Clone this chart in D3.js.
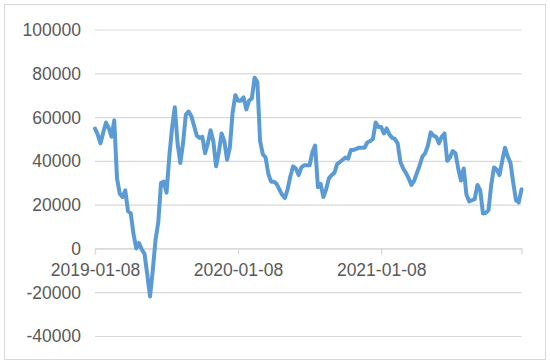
<!DOCTYPE html>
<html>
<head>
    <meta charset="utf-8">
    <script src="https://cdn.jsdelivr.net/npm/d3@7/dist/d3.min.js"></script>
    <style>
        body { margin: 0; background: #fff; }
        svg text { font-family: "Liberation Sans", Arial, sans-serif; fill: #595959; }
    </style>
</head>
<body>
    <div id="chart"></div>
</body>
<script>
    // weekly series
    const values = [
        54800, 52000, 48000, 53000, 57500, 55000, 51000, 58500, 32000, 25000,
        23500, 26500, 17000, 16000, 6500, 0, 2500, -500, -2500, -12000,
        -22000, -10000, 4000, 12000, 30000, 30500, 25500, 42000, 55000, 64500,
        48000, 39000, 48000, 61000, 62500, 60500, 56000, 51500, 50500, 51000,
        43500, 48000, 54000, 49000, 37500, 44000, 52500, 49000, 40500, 46000,
        62000, 70000, 67500, 67500, 69000, 63500, 67500, 68500, 78000, 76000,
        49000, 43000, 41500, 34000, 30500, 30500, 29500, 27000, 24500, 23000,
        27000, 33000, 37500, 36500, 33500, 37000, 38000, 38000, 38000, 44000,
        47000, 28000, 29500, 23500, 27000, 32000, 33500, 34500, 38500, 39500,
        40500, 41500, 41000, 45000, 45000, 45500, 46000, 46000, 46000, 48500,
        49000, 50000, 57500, 55500, 55500, 52500, 54800, 52000, 50500, 50000,
        48000, 39500, 36500, 34500, 32000, 29000, 31000, 34500, 38000, 42000,
        43500, 47000, 53000, 51500, 51000, 48000, 51000, 52500, 40000, 41500,
        44500, 43500, 36500, 31000, 36500, 24500, 21500, 22000, 22500, 29000,
        26500, 16000, 16200, 17500, 29000, 37000, 36000, 33500, 40000, 46000,
        42000, 39000, 30000, 22000, 21000, 27000
    ];
    const xTickIndex = [0, 52, 104];
    const xTickLabels = ["2019-01-08", "2020-01-08", "2021-01-08"];
    const yTicks = [-40000, -20000, 0, 20000, 40000, 60000, 80000, 100000];

    const W = 550, H = 364;
    const svg = d3.select("#chart").append("svg")
        .attr("width", W)
        .attr("height", H);

    // outer chart border
    svg.append("rect")
        .attr("x", 4.5).attr("y", 4.5)
        .attr("width", 541).attr("height", 355)
        .attr("fill", "#fff")
        .attr("stroke", "#d9d9d9");

    const x = d3.scaleLinear().domain([0, values.length - 1]).range([95, 521.5]);
    const y = d3.scaleLinear().domain([-40000, 100000]).range([336, 29.5]);

    // gridlines + y labels
    const yAxis = d3.axisLeft(y)
        .tickValues(yTicks)
        .tickSize(-(x.range()[1] - x.range()[0]))
        .tickPadding(14)
        .tickFormat(d => String(d));
    const gy = svg.append("g").attr("transform", "translate(95,0)").call(yAxis);
    gy.select(".domain").remove();
    gy.selectAll(".tick line").attr("stroke", "#d9d9d9").attr("stroke-width", 1.2);
    gy.selectAll(".tick text").attr("font-size", 17.5).attr("dy", "0.34em");

    // category axis crossing at 0
    const xAxis = d3.axisBottom(x)
        .tickValues(xTickIndex)
        .tickSize(6)
        .tickPadding(9)
        .tickFormat((d, i) => xTickLabels[i]);
    const gx = svg.append("g").attr("transform", `translate(0,${y(0)})`).call(xAxis);
    gx.select(".domain").attr("stroke", "#d9d9d9").attr("stroke-width", 1.2);
    gx.selectAll(".tick line").attr("stroke", "#d9d9d9").attr("stroke-width", 1.2);
    gx.selectAll(".tick text").attr("font-size", 17.5);

    const line = d3.line()
        .x((d, i) => x(i))
        .y(d => y(d));

    svg.append("path")
        .datum(values)
        .attr("d", line)
        .attr("fill", "none")
        .attr("stroke", "#5b9bd5")
        .attr("stroke-width", 4)
        .attr("stroke-linejoin", "round")
        .attr("stroke-linecap", "round");
</script>
</html>
